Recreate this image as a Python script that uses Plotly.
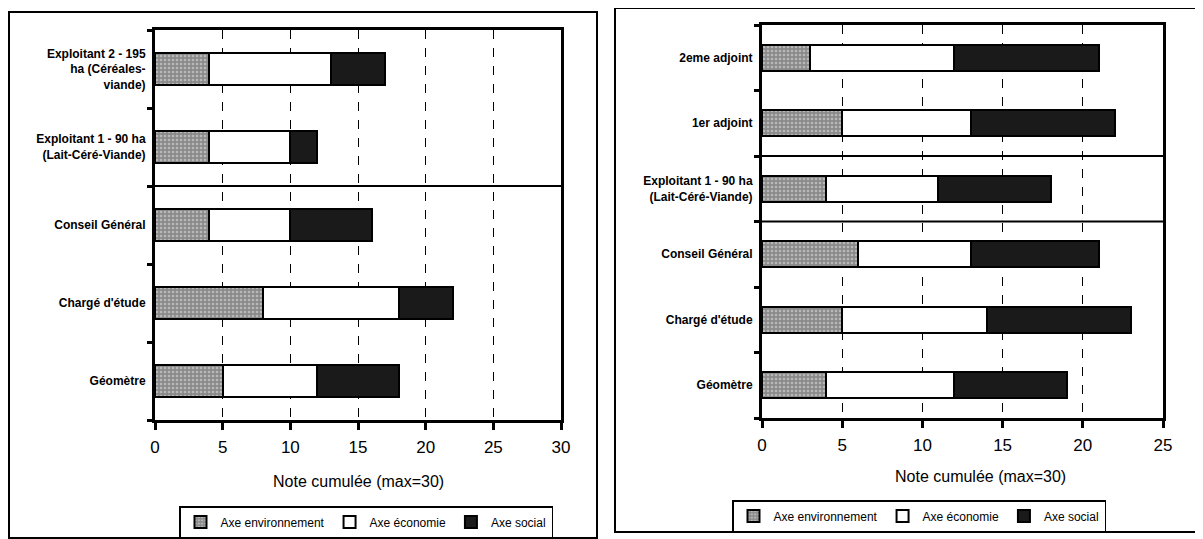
import plotly.graph_objects as go

# ---------------- data ----------------
left_cats = ["Géomètre", "Chargé d'étude", "Conseil Général",
             "Exploitant 1 - 90 ha<br>(Lait-Céré-Viande)",
             "Exploitant 2 - 195<br>ha (Céréales-<br>viande)"]
left_env = [5, 8, 4, 4, 4]
left_eco = [7, 10, 6, 6, 9]
left_soc = [6, 4, 6, 2, 4]

right_cats = ["Géomètre", "Chargé d'étude", "Conseil Général",
              "Exploitant 1 - 90 ha<br>(Lait-Céré-Viande)",
              "1er adjoint", "2eme adjoint"]
right_env = [4, 5, 6, 4, 5, 3]
right_eco = [8, 9, 7, 7, 8, 9]
right_soc = [7, 9, 8, 7, 9, 9]

series_names = ["Axe environnement", "Axe économie", "Axe social"]
left_ticks = [0, 5, 10, 15, 20, 25, 30]
right_ticks = [0, 5, 10, 15, 20, 25]
x_title = "Note cumulée (max=30)"

# the page body has an 8px default margin, so the figure is drawn 8px in
OFF = 8
W, H = 1203 - OFF, 539 - OFF
FONT = "Liberation Sans, Arial, sans-serif"


def px(x):
    return (x - OFF) / W


def py(y):
    return 1 - (y - OFF) / H


env_marker = dict(color="#8a8a8a", line=dict(color="black", width=2),
                  pattern=dict(shape=".", fillmode="overlay", fgcolor="#e6e6e6",
                               size=4, solidity=0.35))
eco_marker = dict(color="white", line=dict(color="black", width=2))
soc_marker = dict(color="#1a1a1a", line=dict(color="black", width=2))
markers = [env_marker, eco_marker, soc_marker]

fig = go.Figure()
for name, vals, mk in zip(series_names, [left_env, left_eco, left_soc], markers):
    fig.add_trace(go.Bar(y=left_cats, x=vals, name=name, orientation="h",
                         marker=mk, xaxis="x", yaxis="y", legend="legend"))
for name, vals, mk in zip(series_names, [right_env, right_eco, right_soc], markers):
    fig.add_trace(go.Bar(y=right_cats, x=vals, name=name, orientation="h",
                         marker=mk, xaxis="x2", yaxis="y2", legend="legend2"))

xcommon = dict(showline=True, linecolor="black", linewidth=3, mirror=True,
               ticks="outside", ticklen=7, tickwidth=3, tickcolor="black",
               showgrid=True, gridcolor="black", gridwidth=1, griddash="dash",
               zeroline=False, automargin=False, ticklabelstandoff=3,
               tickfont=dict(family=FONT, size=17, color="black"))
ycommon = dict(type="category", showline=True, linecolor="black", linewidth=3,
               mirror=True, ticks="outside", ticklen=5, tickwidth=3,
               tickcolor="black", tickson="boundaries", showgrid=False,
               automargin=False, ticklabelstandoff=4,
               tickfont=dict(family=FONT, size=12, color="black", weight="bold"))

legend_common = dict(orientation="h", xanchor="center", yanchor="top",
                     bordercolor="black", borderwidth=1.5, traceorder="normal",
                     font=dict(family=FONT, size=12, color="black"),
                     itemwidth=30, bgcolor="white")

fig.update_layout(
    width=W, height=H, margin=dict(l=0, r=0, t=0, b=0, autoexpand=False),
    paper_bgcolor="white", plot_bgcolor="white",
    barmode="stack", bargap=0.6,
    xaxis=dict(domain=[px(155), px(561)], range=[0, 30], tickvals=left_ticks,
               anchor="y", **xcommon),
    yaxis=dict(domain=[py(420), py(30)], range=[-0.5, 4.5],
               categoryorder="array", categoryarray=left_cats, anchor="x",
               **ycommon),
    xaxis2=dict(domain=[px(762), px(1163)], range=[0, 25], tickvals=right_ticks,
                anchor="y2", **xcommon),
    yaxis2=dict(domain=[py(418), py(25)], range=[-0.5, 5.5],
                categoryorder="array", categoryarray=right_cats, anchor="x2",
                **ycommon),
    legend=dict(x=px(366), y=py(506), **legend_common),
    legend2=dict(x=px(919), y=py(500), **legend_common),
    showlegend=True,
)

fig.add_annotation(text=x_title, x=px(358), y=py(481), xref="paper", yref="paper",
                   xanchor="center", yanchor="middle", showarrow=False,
                   font=dict(family=FONT, size=16, color="black"))
fig.add_annotation(text=x_title, x=px(980), y=py(476), xref="paper", yref="paper",
                   xanchor="center", yanchor="middle", showarrow=False,
                   font=dict(family=FONT, size=16, color="black"))

# divider lines between groups
fig.add_shape(type="line", xref="x domain", yref="y", x0=0, x1=1, y0=2.5, y1=2.5,
              line=dict(color="black", width=2))
for yb in [2.5, 3.5]:
    fig.add_shape(type="line", xref="x2 domain", yref="y2", x0=0, x1=1, y0=yb, y1=yb,
                  line=dict(color="black", width=2))

# outer frames
fig.add_shape(type="rect", xref="paper", yref="paper", x0=px(9), x1=px(597),
              y0=py(538), y1=py(12), line=dict(color="black", width=2))
fig.add_shape(type="rect", xref="paper", yref="paper", x0=px(615), x1=px(1199),
              y0=py(532), y1=py(8), line=dict(color="black", width=2))

fig.write_html("out.html")
